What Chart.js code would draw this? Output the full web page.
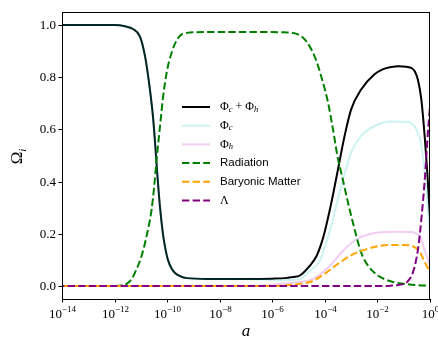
<!DOCTYPE html>
<html>
<head>
<meta charset="utf-8">
<script src="https://cdn.jsdelivr.net/npm/chart.js@4.4.1/dist/chart.umd.min.js"></script>
<style>
html,body{margin:0;padding:0;background:#fff;}
canvas{display:block;}
</style>
</head>
<body>
<canvas id="c" width="438" height="339"></canvas>
<script>
// ---- data (log10 of scale factor a, and density parameters) ----
const xTickExponents = [-14, -12, -10, -8, -6, -4, -2, 0];
const yTickValues = [0.0, 0.2, 0.4, 0.6, 0.8, 1.0];

const phiTotalLogA = [-14, -12, -11.6, -11.3, -11.03, -10.84, -10.69, -10.54, -10.46, -10.39, -10.27, -10.16, -10.08, -9.97, -9.82, -9.7, -9.51, -9.25, -8.5, -7, -6, -5.5, -5.2, -4.95, -4.57, -4.31, -4.12, -4.0, -3.87, -3.7, -3.5, -3.38, -3.25, -3.0, -2.62, -2.11, -1.8, -1.47, -1.2, -0.9, -0.7, -0.58, -0.46, -0.33, -0.2, -0.1, 0];
const phiTotal = [1.0, 1.0, 0.995, 0.985, 0.955, 0.88, 0.78, 0.65, 0.55, 0.45, 0.3, 0.2, 0.15, 0.1, 0.065, 0.05, 0.038, 0.03, 0.027, 0.027, 0.028, 0.03, 0.034, 0.04, 0.078, 0.116, 0.167, 0.21, 0.265, 0.345, 0.447, 0.51, 0.575, 0.677, 0.753, 0.811, 0.83, 0.839, 0.842, 0.84, 0.835, 0.823, 0.79, 0.715, 0.57, 0.43, 0.26];

const phiCLogA = [-14, -12, -11.6, -11.3, -11.03, -10.84, -10.69, -10.54, -10.46, -10.39, -10.27, -10.16, -10.08, -9.97, -9.82, -9.7, -9.51, -9.25, -8.5, -7, -6, -5.71, -5.2, -4.95, -4.57, -4.19, -3.93, -3.81, -3.72, -3.5, -3.3, -3.12, -3.0, -2.62, -2.11, -1.47, -0.84, -0.52, -0.33, -0.19, -0.1, 0];
const phiC = [1.0, 1.0, 0.995, 0.985, 0.955, 0.88, 0.78, 0.65, 0.55, 0.45, 0.3, 0.2, 0.15, 0.1, 0.065, 0.05, 0.038, 0.03, 0.027, 0.026, 0.024, 0.022, 0.024, 0.026, 0.058, 0.097, 0.172, 0.212, 0.245, 0.333, 0.413, 0.475, 0.512, 0.575, 0.613, 0.63, 0.628, 0.60, 0.54, 0.42, 0.32, 0.2];

const phiHLogA = [-14, -7, -6, -5.71, -4.95, -4.45, -4.07, -3.69, -3.31, -2.78, -2.29, -1.9, -1.2, -0.7, -0.5, -0.38, -0.26, -0.13, -0.03, 0];
const phiH = [0, 0.001, 0.004, 0.008, 0.015, 0.027, 0.053, 0.09, 0.135, 0.18, 0.199, 0.206, 0.208, 0.207, 0.2, 0.19, 0.154, 0.116, 0.085, 0.075];

const radiationLogA = [-14, -12, -11.75, -11.54, -11.35, -11.16, -10.97, -10.78, -10.59, -10.49, -10.40, -10.27, -10.15, -10.02, -9.83, -9.58, -9.26, -8.5, -6.5, -5.53, -5.02, -4.71, -4.39, -4.14, -3.88, -3.69, -3.50, -3.38, -3.12, -2.87, -2.62, -2.36, -1.98, -1.47, -0.96, -0.5, 0];
const radiation = [0, 0, 0.002, 0.008, 0.027, 0.065, 0.116, 0.192, 0.294, 0.384, 0.486, 0.613, 0.728, 0.817, 0.894, 0.951, 0.97, 0.973, 0.973, 0.972, 0.964, 0.938, 0.88, 0.804, 0.703, 0.60, 0.486, 0.435, 0.32, 0.218, 0.129, 0.078, 0.04, 0.017, 0.008, 0.003, 0.001];

const baryonLogA = [-14, -6, -5.71, -4.95, -4.44, -3.93, -3.43, -2.92, -2.41, -1.9, -1.4, -1.03, -0.65, -0.38, -0.19, -0.03, 0];
const baryon = [0, 0, 0.001, 0.008, 0.02, 0.052, 0.09, 0.122, 0.141, 0.154, 0.157, 0.157, 0.152, 0.129, 0.09, 0.059, 0.054];

const lambdaLogA = [-14, -1.8, -1.5, -1.2, -0.89, -0.64, -0.45, -0.32, -0.19, -0.1, 0];
const lambda = [0, 0, 0.001, 0.004, 0.014, 0.055, 0.145, 0.265, 0.42, 0.56, 0.69];

// ---- build ----
function pts(logA, vals){ return logA.map((e,i)=>({x: Math.pow(10,e), y: vals[i]})); }
const DASH = [7.4, 3.2];

const datasets = [
  {key:'tot', data: pts(phiTotalLogA, phiTotal), borderColor:'#000000', borderDash:[], order:6},
  {key:'c', data: pts(phiCLogA, phiC), borderColor:'rgba(0,191,191,0.2)', borderDash:[], order:5},
  {key:'h', data: pts(phiHLogA, phiH), borderColor:'rgba(191,0,191,0.2)', borderDash:[], order:4},
  {key:'rad', data: pts(radiationLogA, radiation), borderColor:'#008000', borderDash:DASH, order:3},
  {key:'bar', data: pts(baryonLogA, baryon), borderColor:'#ffa500', borderDash:DASH, order:2},
  {key:'lam', data: pts(lambdaLogA, lambda), borderColor:'#800080', borderDash:DASH, borderDashOffset:5, order:1}
].map(d => Object.assign({borderWidth:2, pointRadius:0, fill:false, cubicInterpolationMode:'monotone'}, d));

const SERIF = '"Liberation Serif", "DejaVu Serif", serif';
const SANS = '"Liberation Sans", "DejaVu Sans", sans-serif';

// draws text pieces [{t, size, italic, dy, family}] starting at x; returns end x
function drawPieces(ctx, pieces, x, y, measureOnly){
  let cx = x;
  for (const p of pieces){
    ctx.font = (p.italic ? 'italic ' : '') + p.size + 'px ' + (p.family || SERIF);
    if (!measureOnly) ctx.fillText(p.t, cx, y + (p.dy || 0));
    cx += ctx.measureText(p.t).width;
  }
  return cx;
}

const legendItems = [
  {ds:0, pieces:[{t:'Φ',size:12},{t:'c',size:8.5,italic:true,dy:2.5},{t:' + ',size:12},{t:'Φ',size:12},{t:'h',size:8.5,italic:true,dy:2.5}]},
  {ds:1, pieces:[{t:'Φ',size:12},{t:'c',size:8.5,italic:true,dy:2.5}]},
  {ds:2, pieces:[{t:'Φ',size:12},{t:'h',size:8.5,italic:true,dy:2.5}]},
  {ds:3, pieces:[{t:'Radiation',size:11.5,family:SANS}]},
  {ds:4, pieces:[{t:'Baryonic Matter',size:11.5,family:SANS}]},
  {ds:5, pieces:[{t:'Λ',size:12}]}
];

const decor = {
  id:'decor',
  afterDraw(chart){
    const ctx = chart.ctx, a = chart.chartArea;
    const xs = chart.scales.x, ys = chart.scales.y;
    ctx.save();
    ctx.fillStyle = '#000'; ctx.strokeStyle = '#000'; ctx.lineWidth = 1;
    // frame
    ctx.strokeRect(a.left + 0.5, a.top + 0.5, a.right - a.left - 1, a.bottom - a.top);
    // y ticks
    ctx.textAlign = 'right'; ctx.textBaseline = 'middle';
    ctx.font = '13px ' + SERIF;
    ys.ticks.forEach(t => {
      const py = Math.round(ys.getPixelForValue(t.value)) + 0.5;
      ctx.beginPath(); ctx.moveTo(a.left - 3.5, py); ctx.lineTo(a.left, py); ctx.stroke();
      ctx.fillText(t.value.toFixed(1), a.left - 6, py + 0.5);
    });
    // x ticks
    ctx.textAlign = 'left'; ctx.textBaseline = 'alphabetic';
    xs.ticks.forEach(t => {
      const px = Math.round(xs.getPixelForValue(t.value)) + 0.5;
      ctx.beginPath(); ctx.moveTo(px, a.bottom); ctx.lineTo(px, a.bottom + 3.5); ctx.stroke();
      const e = Math.round(Math.log10(t.value));
      const pieces = [{t:'10',size:13},{t:(e<0?'−':'')+Math.abs(e),size:9,dy:-6}];
      const w = drawPieces(ctx, pieces, 0, 0, true);
      drawPieces(ctx, pieces, px - w/2, a.bottom + 19);
    });
    // x title
    ctx.font = 'italic 17px ' + SERIF; ctx.textAlign = 'center';
    ctx.fillText('a', (a.left + a.right)/2, 336);
    // y title
    ctx.save();
    ctx.translate(22, (a.top + a.bottom)/2 + 1);
    ctx.rotate(-Math.PI/2);
    ctx.textAlign = 'left';
    const yp = [{t:'Ω',size:17},{t:'i',size:11,italic:true,dy:3.5}];
    const yw = drawPieces(ctx, yp, 0, 0, true);
    drawPieces(ctx, yp, -yw/2, 0);
    ctx.restore();
    // legend
    ctx.textAlign = 'left'; ctx.textBaseline = 'middle';
    legendItems.forEach((it, i) => {
      const ds = chart.data.datasets[it.ds];
      const y = 107 + i * 18.7;
      ctx.save();
      ctx.strokeStyle = ds.borderColor; ctx.lineWidth = ds.borderWidth;
      ctx.setLineDash(ds.borderDash || []);
      ctx.beginPath(); ctx.moveTo(182, y); ctx.lineTo(210, y); ctx.stroke();
      ctx.restore();
      ctx.fillStyle = '#000';
      drawPieces(ctx, it.pieces, 220, y);
    });
    ctx.restore();
  }
};

new Chart(document.getElementById('c'), {
  type:'line',
  data:{datasets},
  options:{
    responsive:false, animation:false, devicePixelRatio:1,
    layout:{padding:{left:0, top:12, right:8, bottom:0}},
    plugins:{legend:{display:false}, tooltip:{enabled:false}},
    scales:{
      x:{type:'logarithmic', min:1e-14, max:1,
         afterBuildTicks: s => { s.ticks = xTickExponents.map(e => ({value: Math.pow(10,e)})); },
         afterFit: s => { s.height = 40; },
         ticks:{display:false}, grid:{display:false}, border:{display:false}},
      y:{type:'linear', min:-0.05, max:1.05,
         afterBuildTicks: s => { s.ticks = yTickValues.map(v => ({value:v})); },
         afterFit: s => { s.width = 62; },
         ticks:{display:false}, grid:{display:false}, border:{display:false}}
    }
  },
  plugins:[decor]
});
</script>
</body>
</html>
